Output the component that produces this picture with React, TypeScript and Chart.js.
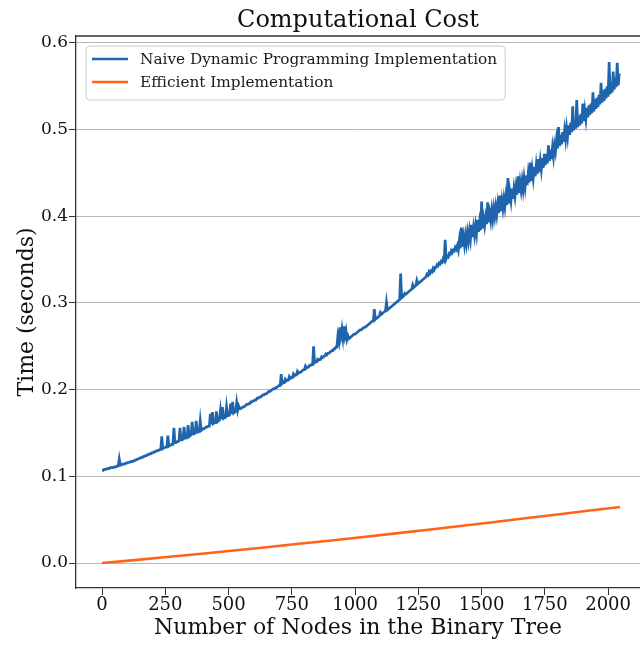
import { useEffect, useRef } from "react";
import { Chart, registerables } from "chart.js";

Chart.register(...registerables);

// Naive timings are sampled every NODE_STEP nodes; a second sample sits halfway between.
const NODE_STEP = 8;

// Naive dynamic-programming timings (seconds) at nodes 0, 8, 16, ... (one row per 128 nodes).
const naiveTimeA: number[] = [
  0.107, 0.108, 0.108, 0.109, 0.110, 0.110, 0.111, 0.111, 0.112, 0.113, 0.114, 0.114, 0.115, 0.116, 0.117, 0.117,
  0.118, 0.119, 0.120, 0.121, 0.122, 0.123, 0.124, 0.125, 0.126, 0.127, 0.128, 0.129, 0.130, 0.131, 0.132, 0.133,
  0.134, 0.135, 0.136, 0.137, 0.139, 0.140, 0.141, 0.142, 0.143, 0.144, 0.145, 0.146, 0.148, 0.149, 0.150, 0.151,
  0.152, 0.153, 0.155, 0.156, 0.157, 0.158, 0.160, 0.161, 0.162, 0.163, 0.165, 0.166, 0.167, 0.168, 0.170, 0.171,
  0.172, 0.173, 0.175, 0.176, 0.178, 0.179, 0.180, 0.182, 0.183, 0.184, 0.186, 0.187, 0.188, 0.190, 0.191, 0.193,
  0.194, 0.195, 0.197, 0.198, 0.200, 0.201, 0.202, 0.204, 0.205, 0.207, 0.208, 0.210, 0.211, 0.213, 0.214, 0.216,
  0.217, 0.219, 0.220, 0.222, 0.223, 0.225, 0.226, 0.228, 0.229, 0.231, 0.232, 0.234, 0.235, 0.237, 0.239, 0.240,
  0.242, 0.244, 0.245, 0.247, 0.249, 0.256, 0.262, 0.260, 0.262, 0.258, 0.259, 0.261, 0.263, 0.264, 0.266, 0.268,
  0.269, 0.271, 0.272, 0.274, 0.276, 0.278, 0.279, 0.281, 0.283, 0.285, 0.287, 0.289, 0.291, 0.292, 0.294, 0.296,
  0.298, 0.300, 0.302, 0.304, 0.306, 0.308, 0.310, 0.312, 0.314, 0.316, 0.318, 0.320, 0.322, 0.324, 0.326, 0.328,
  0.330, 0.332, 0.334, 0.336, 0.338, 0.341, 0.343, 0.345, 0.347, 0.349, 0.351, 0.353, 0.356, 0.358, 0.360, 0.362,
  0.361, 0.363, 0.365, 0.367, 0.369, 0.372, 0.374, 0.376, 0.378, 0.380, 0.382, 0.384, 0.386, 0.389, 0.391, 0.393,
  0.395, 0.397, 0.400, 0.402, 0.404, 0.406, 0.409, 0.411, 0.413, 0.415, 0.418, 0.420, 0.423, 0.425, 0.427, 0.430,
  0.431, 0.434, 0.436, 0.439, 0.441, 0.444, 0.446, 0.449, 0.451, 0.454, 0.456, 0.459, 0.461, 0.464, 0.466, 0.469,
  0.475, 0.478, 0.481, 0.483, 0.486, 0.489, 0.492, 0.494, 0.497, 0.499, 0.501, 0.503, 0.505, 0.507, 0.510, 0.512,
  0.514, 0.517, 0.519, 0.521, 0.524, 0.526, 0.529, 0.531, 0.533, 0.536, 0.538, 0.541, 0.543, 0.546, 0.549, 0.551,
];

// Naive timings (seconds) at nodes 4, 12, 20, ... (one row per 128 nodes).
const naiveTimeB: number[] = [
  0.107, 0.108, 0.109, 0.109, 0.110, 0.110, 0.111, 0.112, 0.120, 0.113, 0.114, 0.115, 0.116, 0.116, 0.117, 0.118,
  0.119, 0.120, 0.121, 0.122, 0.123, 0.124, 0.125, 0.126, 0.127, 0.128, 0.129, 0.130, 0.131, 0.146, 0.133, 0.134,
  0.147, 0.136, 0.137, 0.156, 0.139, 0.140, 0.156, 0.142, 0.157, 0.144, 0.159, 0.147, 0.163, 0.149, 0.164, 0.151,
  0.164, 0.154, 0.155, 0.157, 0.158, 0.172, 0.174, 0.162, 0.175, 0.164, 0.176, 0.180, 0.168, 0.180, 0.170, 0.184,
  0.186, 0.174, 0.185, 0.181, 0.178, 0.180, 0.181, 0.183, 0.184, 0.186, 0.187, 0.188, 0.190, 0.191, 0.192, 0.194,
  0.195, 0.196, 0.198, 0.199, 0.201, 0.202, 0.203, 0.205, 0.218, 0.208, 0.212, 0.211, 0.215, 0.214, 0.218, 0.217,
  0.221, 0.220, 0.221, 0.223, 0.227, 0.226, 0.228, 0.229, 0.250, 0.232, 0.235, 0.235, 0.238, 0.238, 0.241, 0.242,
  0.243, 0.245, 0.247, 0.249, 0.262, 0.272, 0.270, 0.273, 0.268, 0.262, 0.260, 0.262, 0.264, 0.265, 0.267, 0.269,
  0.270, 0.272, 0.273, 0.275, 0.277, 0.279, 0.293, 0.282, 0.284, 0.289, 0.288, 0.290, 0.301, 0.293, 0.295, 0.297,
  0.299, 0.301, 0.303, 0.334, 0.307, 0.311, 0.311, 0.313, 0.315, 0.321, 0.319, 0.326, 0.323, 0.325, 0.327, 0.329,
  0.333, 0.336, 0.337, 0.340, 0.341, 0.344, 0.346, 0.348, 0.351, 0.373, 0.354, 0.357, 0.360, 0.361, 0.364, 0.366,
  0.372, 0.387, 0.376, 0.378, 0.381, 0.383, 0.390, 0.387, 0.389, 0.396, 0.393, 0.417, 0.397, 0.399, 0.416, 0.403,
  0.407, 0.409, 0.411, 0.414, 0.424, 0.418, 0.420, 0.423, 0.444, 0.427, 0.432, 0.432, 0.434, 0.446, 0.439, 0.441,
  0.444, 0.447, 0.449, 0.462, 0.454, 0.457, 0.459, 0.466, 0.464, 0.467, 0.472, 0.472, 0.482, 0.477, 0.479, 0.482,
  0.488, 0.503, 0.494, 0.497, 0.499, 0.502, 0.505, 0.508, 0.527, 0.512, 0.534, 0.516, 0.518, 0.530, 0.522, 0.525,
  0.528, 0.530, 0.543, 0.535, 0.537, 0.540, 0.554, 0.545, 0.547, 0.550, 0.578, 0.555, 0.567, 0.560, 0.577, 0.565,
];

// Efficient implementation timings (seconds).
const efficientNodes: number[] = [0, 128, 256, 384, 512, 640, 768, 896, 1024, 1152, 1280, 1408, 1536, 1664, 1792, 1920, 2047];
const efficientTime: number[] = [
  0.0, 0.0034, 0.0069, 0.0105, 0.0142, 0.018, 0.0219, 0.0258, 0.0298, 0.0339, 0.0381, 0.0424, 0.0468, 0.0513,
  0.0558, 0.0604, 0.0646,
];

const xTicks: number[] = [0, 250, 500, 750, 1000, 1250, 1500, 1750, 2000];
const yTicks: number[] = [0.0, 0.1, 0.2, 0.3, 0.4, 0.5, 0.6];

const seriesNames: string[] = ["Naive Dynamic Programming Implementation", "Efficient Implementation"];
const seriesColors: string[] = ["#1f65ae", "#ff6318"];

const SERIF = "'DejaVu Serif', 'Liberation Serif', serif";
const SPINE = "#333333";

// Legend drawn inside the upper-left corner of the plot area.
const insetLegend = {
  id: "insetLegend",
  afterDraw(chart: Chart) {
    const { ctx, chartArea } = chart;
    const left = chartArea.left + 10;
    const top = chartArea.top + 10;
    const fontSize = 15.3;
    ctx.save();
    ctx.font = `${fontSize}px ${SERIF}`;
    const textX = left + 54;
    let textW = 0;
    seriesNames.forEach((n) => (textW = Math.max(textW, ctx.measureText(n).width)));
    const w = textX - left + textW + 8;
    const h = 54;
    ctx.beginPath();
    ctx.roundRect(left, top, w, h, 4);
    ctx.fillStyle = "rgba(255,255,255,0.85)";
    ctx.fill();
    ctx.strokeStyle = "#cccccc";
    ctx.lineWidth = 1;
    ctx.stroke();
    seriesNames.forEach((name, i) => {
      const cy = top + 13 + i * 23;
      ctx.beginPath();
      ctx.moveTo(left + 6, cy);
      ctx.lineTo(left + 42, cy);
      ctx.strokeStyle = seriesColors[i];
      ctx.lineWidth = 2.5;
      ctx.stroke();
      ctx.fillStyle = "#1a1a1a";
      ctx.textBaseline = "middle";
      ctx.textAlign = "left";
      ctx.fillText(name, textX, cy + 1);
    });
    ctx.restore();
  },
};

// Top spine of the axes frame.
const topSpine = {
  id: "topSpine",
  afterDraw(chart: Chart) {
    const { ctx, chartArea } = chart;
    ctx.save();
    ctx.beginPath();
    ctx.moveTo(chartArea.left, chartArea.top);
    ctx.lineTo(chartArea.right, chartArea.top);
    ctx.strokeStyle = SPINE;
    ctx.lineWidth = 1.3;
    ctx.stroke();
    ctx.restore();
  },
};

export default function App() {
  const canvasRef = useRef<HTMLCanvasElement | null>(null);

  useEffect(() => {
    const canvas = canvasRef.current;
    if (!canvas) return;

    const naivePoints: { x: number; y: number }[] = [];
    naiveTimeA.forEach((t, i) => {
      naivePoints.push({ x: i * NODE_STEP, y: t });
      naivePoints.push({ x: i * NODE_STEP + NODE_STEP / 2, y: naiveTimeB[i] });
    });
    const efficientPoints = efficientTime.map((t, i) => ({ x: efficientNodes[i], y: t }));

    const chart = new Chart(canvas, {
      type: "scatter",
      data: {
        datasets: [
          {
            label: seriesNames[0],
            data: naivePoints,
            showLine: true,
            borderColor: seriesColors[0],
            backgroundColor: seriesColors[0],
            borderWidth: 2.7,
            pointRadius: 0,
            tension: 0,
          },
          {
            label: seriesNames[1],
            data: efficientPoints,
            showLine: true,
            borderColor: seriesColors[1],
            backgroundColor: seriesColors[1],
            borderWidth: 2.6,
            pointRadius: 0,
            tension: 0,
          },
        ],
      },
      options: {
        animation: false,
        responsive: false,
        layout: { padding: 0 },
        plugins: {
          legend: { display: false },
          tooltip: { enabled: false },
          title: {
            display: true,
            text: "Computational Cost",
            fullSize: false,
            color: "#111111",
            font: { family: SERIF, size: 24, weight: "normal" },
            padding: { top: 6, bottom: 1.2 },
          },
        },
        scales: {
          x: {
            type: "linear",
            min: -103,
            max: 2126,
            afterFit: (scale: any) => {
              scale.height = 58;
            },
            afterBuildTicks: (scale: any) => {
              scale.ticks = xTicks.map((v) => ({ value: v }));
            },
            ticks: {
              color: "#111111",
              font: { family: SERIF, size: 18 },
              padding: 0,
              maxRotation: 0,
              callback: (v: any) => String(v),
            },
            grid: { drawOnChartArea: false, tickLength: 7, tickColor: SPINE, tickWidth: 1 },
            border: { display: true, color: SPINE, width: 1.3 },
            title: {
              display: true,
              text: "Number of Nodes in the Binary Tree",
              color: "#111111",
              font: { family: SERIF, size: 22 },
              padding: { top: 0, bottom: 5 },
            },
          },
          y: {
            type: "linear",
            min: -0.0288,
            max: 0.608,
            afterFit: (scale: any) => {
              scale.width = 76;
            },
            afterBuildTicks: (scale: any) => {
              scale.ticks = yTicks.map((v) => ({ value: v }));
            },
            ticks: {
              color: "#111111",
              font: { family: SERIF, size: 17 },
              padding: 1,
              callback: (v: any) => Number(v).toFixed(1),
            },
            grid: { color: "#b8b8b8", lineWidth: 1, tickLength: 7, tickColor: SPINE, tickWidth: 1 },
            border: { display: true, color: SPINE, width: 1.3 },
            title: {
              display: true,
              text: "Time (seconds)",
              color: "#111111",
              font: { family: SERIF, size: 22 },
              padding: { top: 14, bottom: 0 },
            },
          },
        },
      },
      plugins: [topSpine, insetLegend],
    });

    return () => chart.destroy();
  }, []);

  return (
    <div style={{ position: "absolute", left: 0, top: 0, width: 640, height: 646, background: "#ffffff" }}>
      <canvas ref={canvasRef} width={640} height={646} style={{ display: "block" }} />
    </div>
  );
}
